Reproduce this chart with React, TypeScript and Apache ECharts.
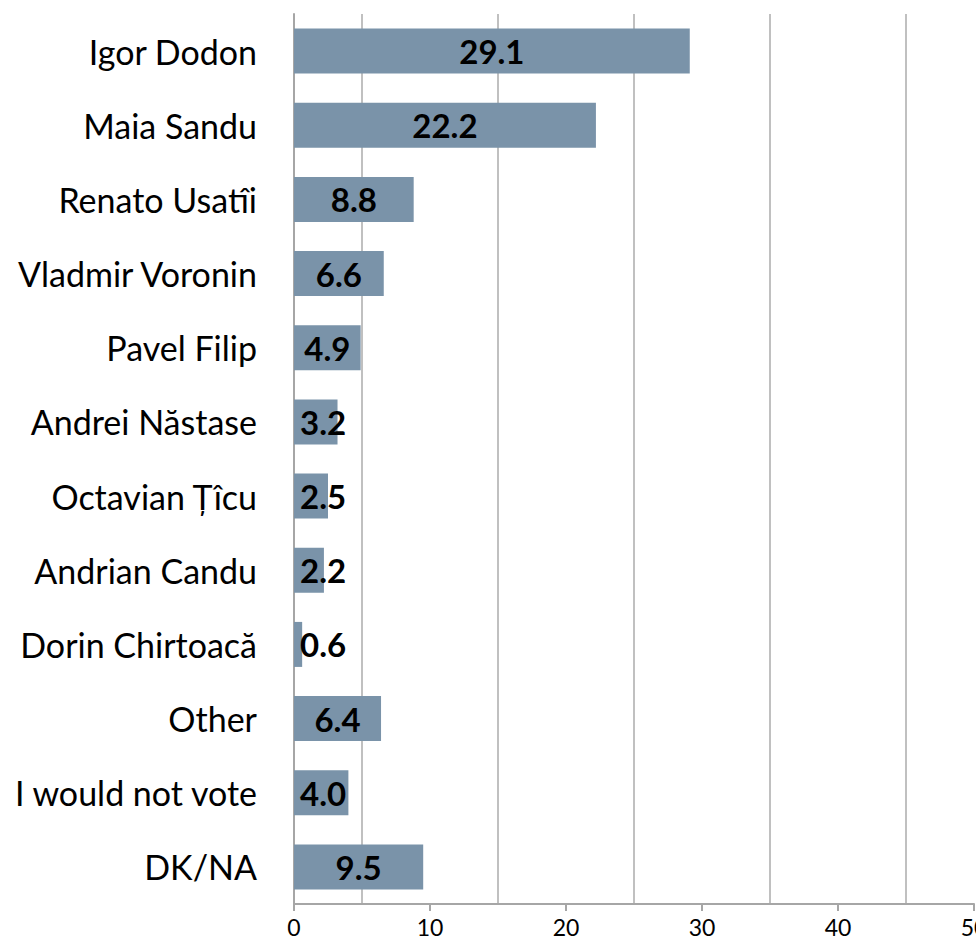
import React, { useEffect, useRef } from "react";
import * as echarts from "echarts";

const categories = [
  "Igor Dodon",
  "Maia Sandu",
  "Renato Usatîi",
  "Vladmir Voronin",
  "Pavel Filip",
  "Andrei Năstase",
  "Octavian Țîcu",
  "Andrian Candu",
  "Dorin Chirtoacă",
  "Other",
  "I would not vote",
  "DK/NA",
];
const values = [29.1, 22.2, 8.8, 6.6, 4.9, 3.2, 2.5, 2.2, 0.6, 6.4, 4.0, 9.5];
const xTicks = [0, 10, 20, 30, 40, 50];

export default function App() {
  const ref = useRef<HTMLDivElement>(null);
  useEffect(() => {
    document.body.style.margin = "0";
    document.body.style.overflow = "hidden";
    document.documentElement.style.overflow = "hidden";
    if (!ref.current) return;
    const chart = echarts.init(ref.current, null, { renderer: "svg" });
    const font = "Lato, 'Open Sans', sans-serif";
    chart.setOption({
      animation: false,
      grid: {
        left: 294,
        right: 2,
        top: 14,
        bottom: 42,
        containLabel: false,
        outerBoundsMode: "none",
      },
      xAxis: {
        type: "value",
        min: xTicks[0],
        max: xTicks[xTicks.length - 1],
        interval: 10,
        axisLine: { show: true, lineStyle: { color: "#A6A6A6", width: 2 } },
        axisTick: { show: true, length: 7, lineStyle: { color: "#A6A6A6", width: 2 } },
        axisLabel: { color: "#000", fontSize: 23, fontFamily: font, margin: 11 },
        splitLine: { show: false },
        minorTick: { show: false, splitNumber: 2 },
        minorSplitLine: { show: true, lineStyle: { color: "#C0C0C0", width: 2 } },
      },
      yAxis: {
        type: "category",
        data: categories,
        inverse: true,
        axisLine: { show: true, lineStyle: { color: "#A6A6A6", width: 2 } },
        axisTick: { show: false },
        axisLabel: { color: "#000", fontSize: 34, fontFamily: font, margin: 37 },
      },
      series: [
        {
          type: "bar",
          barWidth: 45,
          itemStyle: { color: "#7A93A9" },
          data: values.map((v) => ({
            value: v,
            label: v < 4.5 ? { position: "insideLeft", distance: 6 } : { position: "inside" },
          })),
          label: {
            show: true,
            color: "#000",
            fontWeight: "bold",
            fontSize: 33,
            fontFamily: font,
            formatter: (p: any) => p.value.toFixed(1),
          },
        },
      ],
    });
    return () => chart.dispose();
  }, []);
  return (
    <div
      ref={ref}
      style={{ position: "absolute", left: 0, top: 0, width: 976, height: 946, background: "#fff" }}
    />
  );
}
